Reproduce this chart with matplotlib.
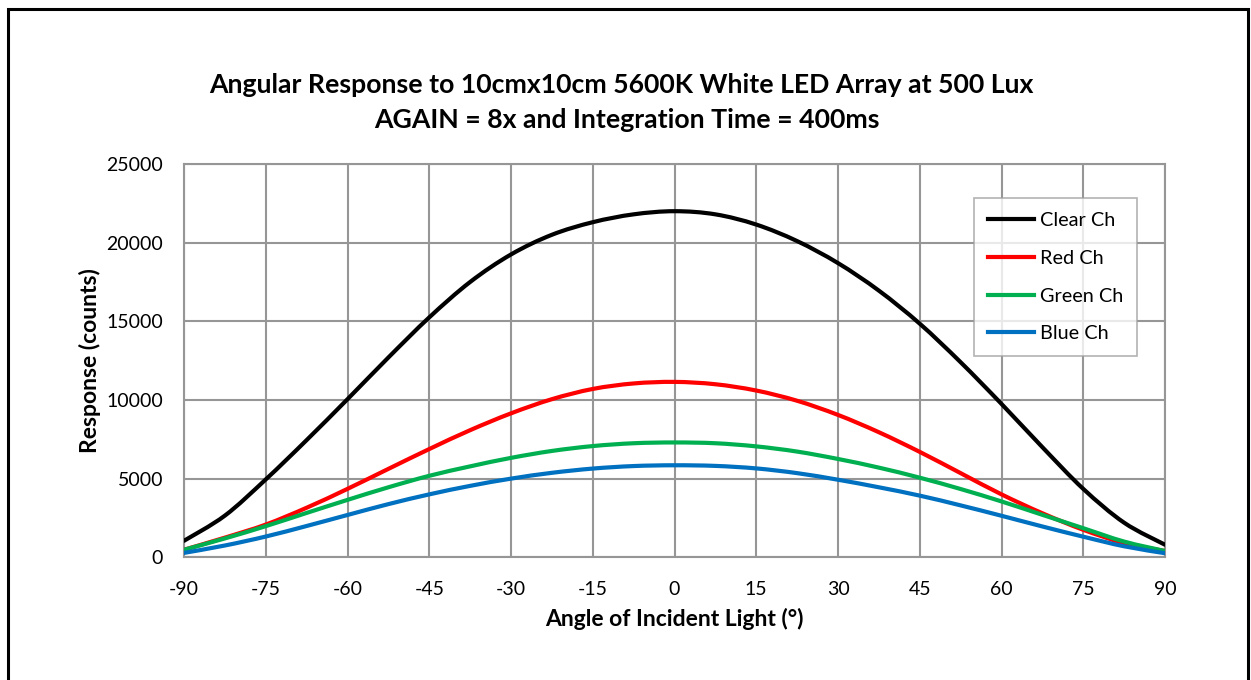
import numpy as np
import matplotlib
matplotlib.use("Agg")
import matplotlib.pyplot as plt
from matplotlib.patches import Rectangle, PathPatch
from matplotlib.path import Path
from matplotlib.lines import Line2D

plt.rcParams['font.family'] = ['Lato', 'DejaVu Sans']
plt.rcParams['axes.unicode_minus'] = False

# angle of incident light (deg) and channel responses (counts)
angles = [-90, -82.5, -75, -67.5, -60, -52.5, -45, -37.5, -30, -22.5, -15, -7.5,
          0, 7.5, 15, 22.5, 30, 37.5, 45, 52.5, 60, 67.5, 75, 82.5, 90]
clear_ch = [1050, 2650, 4950, 7450, 10050, 12700, 15250, 17500, 19250, 20500, 21300, 21800,
            22000, 21800, 21150, 20100, 18700, 16950, 14850, 12400, 9750, 7000, 4350, 2200, 800]
red_ch = [480, 1250, 2080, 3150, 4350, 5620, 6880, 8080, 9150, 10050, 10700, 11050,
          11150, 11000, 10600, 9950, 9050, 7950, 6700, 5350, 4000, 2800, 1750, 900, 400]
green_ch = [480, 1200, 1980, 2820, 3650, 4450, 5180, 5780, 6320, 6760, 7070, 7250,
            7300, 7250, 7050, 6720, 6250, 5700, 5060, 4340, 3550, 2700, 1850, 1000, 400]
blue_ch = [280, 750, 1320, 1990, 2690, 3380, 4000, 4540, 5000, 5370, 5640, 5800,
           5850, 5810, 5650, 5350, 4930, 4450, 3920, 3300, 2640, 1960, 1310, 700, 260]

series = [("Clear Ch", clear_ch, "#000000"),
          ("Red Ch", red_ch, "#FF0000"),
          ("Green Ch", green_ch, "#00B050"),
          ("Blue Ch", blue_ch, "#0070C0")]

x_ticks = list(range(-90, 91, 15))
y_ticks = list(range(0, 25001, 5000))


def smooth_path(xs, ys):
    # Excel-style smoothed line: cubic Bezier through every point (Catmull-Rom tangents)
    p = np.column_stack([xs, ys]).astype(float)
    pp = np.vstack([p[0], p, p[-1]])
    verts = [p[0]]
    codes = [Path.MOVETO]
    for i in range(len(p) - 1):
        p0, p1, p2, p3 = pp[i], pp[i + 1], pp[i + 2], pp[i + 3]
        verts += [p1 + (p2 - p0) / 6, p2 - (p3 - p1) / 6, p2]
        codes += [Path.CURVE4] * 3
    return Path(verts, codes)


W, H = 1251, 680
fig = plt.figure(figsize=(W / 100, H / 100), dpi=100)

# outer black frame
fig.patches.append(Rectangle((8 / W, -0.05), 1240 / W, 1.05 - 9 / H, transform=fig.transFigure,
                             fill=False, edgecolor="black", linewidth=2.2))

ax = fig.add_axes([184 / W, 1 - 557.3 / H, 981 / W, 393.3 / H])

handles = []
for name, vals, col in series:
    ax.add_patch(PathPatch(smooth_path(angles, vals), fill=False, edgecolor=col, lw=3.0,
                           capstyle="round", joinstyle="round", zorder=3))
    handles.append(Line2D([], [], color=col, lw=3.0, label=name))

ax.set_xlim(-90, 90)
ax.set_ylim(0, 25000)
ax.set_xticks(x_ticks)
ax.set_yticks(y_ticks)
ax.grid(True, color="#969696", lw=1.5)
ax.set_axisbelow(True)
for sp in ax.spines.values():
    sp.set_color("#969696")
    sp.set_linewidth(1.5)
ax.tick_params(length=0, labelsize=14)
ax.tick_params(axis="x", pad=17)
ax.tick_params(axis="y", pad=15)

ax.set_xlabel("Angle of Incident Light (°)", fontsize=16.5, fontweight="bold", labelpad=7)
ax.set_ylabel("Response (counts)", fontsize=16.5, fontweight="bold", labelpad=4)

fig.text(621 / W, 1 - 85 / H, "Angular Response to 10cmx10cm 5600K White LED Array at 500 Lux",
         ha="center", va="center", fontsize=19.2, fontweight="bold")
fig.text(627 / W, 1 - 120 / H, "AGAIN = 8x and Integration Time = 400ms",
         ha="center", va="center", fontsize=19.2, fontweight="bold")

leg = ax.legend(handles=handles, loc="upper right", bbox_to_anchor=(0.9715, 0.9136),
                fontsize=14.3, frameon=True, fancybox=False, edgecolor="#a0a0a0",
                borderaxespad=0, handlelength=2.3, handletextpad=0.3, labelspacing=1.05,
                borderpad=0.7)
leg.get_frame().set_linewidth(1.2)

fig.savefig("out.png", dpi=100)
